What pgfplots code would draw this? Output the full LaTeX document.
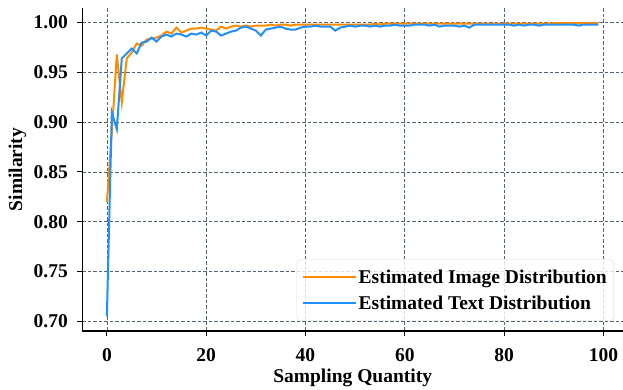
\documentclass[border=0pt]{standalone}
\usepackage{fontspec}
\setmainfont{Liberation Serif}
\usepackage{pgfplots}
\pgfplotsset{compat=1.18}
\definecolor{imgc}{HTML}{FF8C00}
\definecolor{txtc}{HTML}{1E90FF}
\definecolor{gridc}{HTML}{526575}
\begin{document}
\begin{tikzpicture}
\begin{axis}[
  scale only axis, width=540.7pt, height=323pt,
  xmin=-4.95, xmax=103.95, ymin=0.6903, ymax=1.0147,
  axis lines=left, axis line style={-, line width=1.2pt, black},
  xtick={0,20,40,60,80,100},
  ytick={0.70,0.75,0.80,0.85,0.90,0.95,1.00},
  yticklabel style={xshift=-6pt, /pgf/number format/fixed, /pgf/number format/fixed zerofill, /pgf/number format/precision=2},
  /pgf/number format/assume math mode=true,
  tick align=outside, major tick length=5pt,
  tick style={line width=1pt, black},
  ticklabel style={font=\fontsize{19.5}{19.5}\selectfont\bfseries},
  xticklabel style={yshift=-9pt},
  grid=major,
  major grid style={gridc, line width=0.7pt, dash pattern=on 3.5pt off 2pt},
  xlabel={Sampling Quantity}, ylabel={Similarity},
  label style={font=\fontsize{19.5}{19.5}\selectfont\bfseries},
  xlabel style={at={(axis description cs:0.5,-0.1455)}, anchor=center},
  ylabel style={at={(axis description cs:-0.120,0.5)}, anchor=center},
  legend style={at={(1,0)}, anchor=south east, xshift=-9pt, yshift=10pt,
    draw=black!15, rounded corners=4pt, fill=white, fill opacity=0.8, text opacity=1,
    font=\fontsize{19.5}{19.5}\selectfont\bfseries, row sep=7pt,
    inner xsep=5pt, inner ysep=8pt, nodes={inner sep=2pt}},
  legend cell align=left,
  legend image code/.code={\path (0pt,0pt) -- (53pt,0pt); \draw[#1] (0pt,0pt) -- (40pt,0pt);},
]
\addplot[imgc, line width=2pt] coordinates {
(0,0.820)(1,0.890)(2,0.968)(3,0.920)(4,0.964)(5,0.970)(6,0.979)(7,0.977)(8,0.983)(9,0.984)
(10,0.985)(11,0.987)(12,0.991)(13,0.989)(14,0.995)(15,0.990)(16,0.992)(17,0.994)(18,0.994)(19,0.995)
(20,0.994)(21,0.993)(22,0.992)(23,0.996)(24,0.994)(25,0.996)(26,0.997)(27,0.996)(28,0.997)(29,0.996)
(30,0.997)(31,0.997)(32,0.997)(33,0.998)(34,0.997)(35,0.998)(36,0.998)(37,0.997)(38,0.998)(39,0.998)
(40,0.998)(41,0.998)(42,0.998)(43,0.998)(44,0.998)(45,0.998)(46,0.998)(47,0.998)(48,0.998)(49,0.998)
(50,0.998)(51,0.998)(52,0.998)(53,0.998)(54,0.999)(55,0.998)(56,0.999)(57,0.999)(58,0.999)(59,0.999)
(60,0.999)(61,0.999)(62,0.999)(63,0.999)(64,0.999)(65,0.999)(66,0.999)(67,0.999)(68,0.999)(69,0.999)
(70,0.999)(71,0.999)(72,0.999)(73,0.999)(74,0.999)(75,0.999)(76,0.999)(77,0.999)(78,0.999)(79,0.999)
(80,0.999)(81,0.999)(82,0.999)(83,0.999)(84,0.999)(85,0.999)(86,0.999)(87,0.999)(88,0.999)(89,0.999)
(90,0.9995)(91,0.9995)(92,0.9995)(93,0.9995)(94,0.9995)(95,0.9995)(96,0.9995)(97,0.9995)(98,0.9995)(99,0.9995)
};
\addlegendentry{Estimated Image Distribution}
\addplot[txtc, line width=2pt] coordinates {
(0,0.705)(1,0.910)(2,0.893)(3,0.964)(4,0.969)(5,0.974)(6,0.969)(7,0.980)(8,0.981)(9,0.985)
(10,0.981)(11,0.986)(12,0.988)(13,0.986)(14,0.989)(15,0.988)(16,0.986)(17,0.989)(18,0.988)(19,0.990)
(20,0.987)(21,0.992)(22,0.991)(23,0.987)(24,0.989)(25,0.991)(26,0.992)(27,0.995)(28,0.996)(29,0.994)
(30,0.992)(31,0.987)(32,0.993)(33,0.994)(34,0.995)(35,0.996)(36,0.994)(37,0.993)(38,0.993)(39,0.995)
(40,0.996)(41,0.996)(42,0.997)(43,0.996)(44,0.996)(45,0.996)(46,0.992)(47,0.995)(48,0.996)(49,0.997)
(50,0.996)(51,0.997)(52,0.997)(53,0.996)(54,0.997)(55,0.996)(56,0.997)(57,0.997)(58,0.998)(59,0.997)
(60,0.997)(61,0.997)(62,0.998)(63,0.998)(64,0.998)(65,0.997)(66,0.998)(67,0.996)(68,0.997)(69,0.997)
(70,0.997)(71,0.996)(72,0.997)(73,0.995)(74,0.998)(75,0.998)(76,0.998)(77,0.998)(78,0.998)(79,0.998)
(80,0.998)(81,0.998)(82,0.997)(83,0.998)(84,0.997)(85,0.998)(86,0.998)(87,0.997)(88,0.998)(89,0.998)
(90,0.998)(91,0.998)(92,0.998)(93,0.998)(94,0.998)(95,0.997)(96,0.998)(97,0.998)(98,0.998)(99,0.998)
};
\addlegendentry{Estimated Text Distribution}
\end{axis}
\pgfresetboundingbox
\path (current axis.south west) ++(-82.3pt,-59pt) rectangle ++(623pt,390pt);
\end{tikzpicture}
\end{document}
